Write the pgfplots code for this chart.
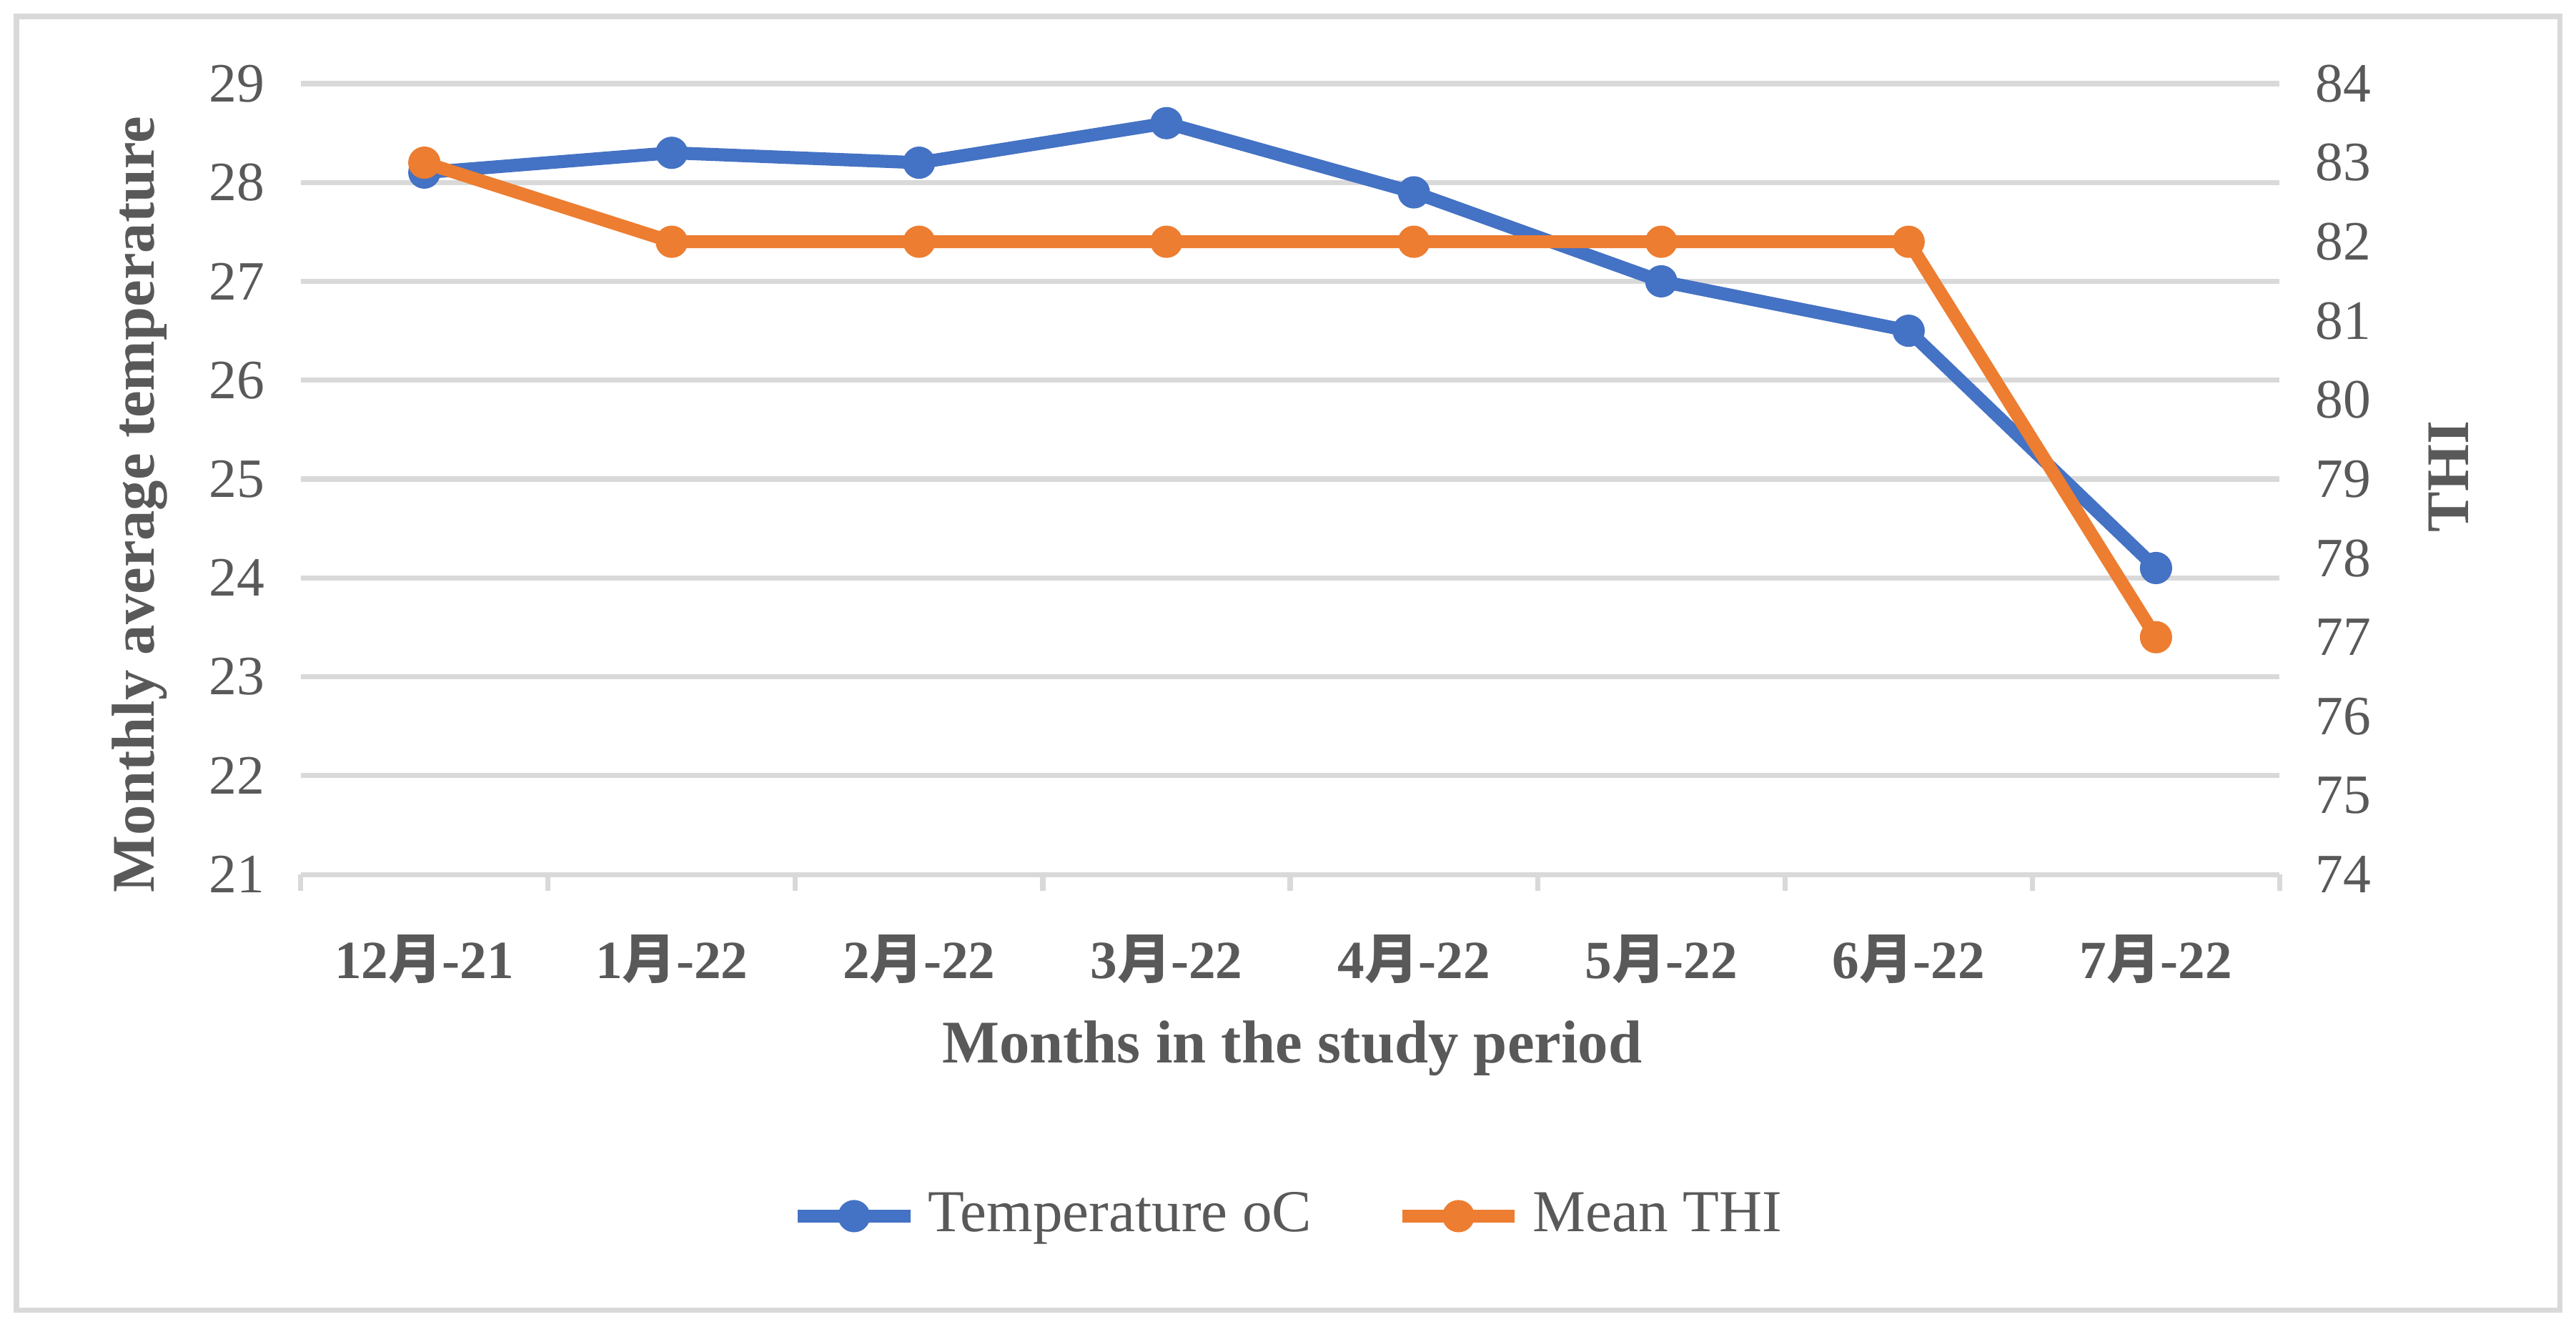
\documentclass[border=0pt]{standalone}
\usepackage{fontspec}
\setmainfont{Liberation Serif}
\newfontfamily\cjk{Noto Sans CJK SC}
\usepackage{pgfplots}
\pgfplotsset{compat=1.18}

\definecolor{tblue}{HTML}{4472C4}
\definecolor{torange}{HTML}{ED7D31}
\definecolor{txt}{HTML}{595959}
\definecolor{grd}{HTML}{D9D9D9}

\newcommand{\mon}[2]{#1{\cjk 月}-#2}

\pgfplotsset{
  common/.style={
    at={(0,0)}, anchor=south west,
    scale only axis, width=12.29cm, height=4.91cm,
    xmin=-0.5, xmax=7.5,
    major tick length=0,
    /pgf/number format/assume math mode=true,
    ticklabel style={text=txt},
    yticklabel style={font=\fontsize{9.8}{11}\selectfont},
    label style={text=txt, font=\bfseries\fontsize{10.7}{12}\selectfont},
    clip=false,
  },
  legend image code/.code={
    \draw[#1, mark repeat=2, mark phase=2] plot coordinates {(0cm,0cm) (0.35cm,0cm) (0.7cm,0cm)};
  },
}

\begin{document}
\begin{tikzpicture}
\useasboundingbox (-1.867,-2.806) rectangle (14.13,5.429);
\draw[grd, line width=0.9pt] (-1.765,-2.704) rectangle (14.03,5.327);

% left axis: temperature
\begin{axis}[
  common,
  ymin=21, ymax=29,
  axis x line*=bottom, axis y line*=left,
  y axis line style={draw=none},
  x axis line style={grd, line width=0.9pt, -},
  ytick={21,...,29},
  ymajorgrids, grid style={grd, line width=0.9pt},
  xtick={0,...,7},
  xticklabels={\mon{12}{21},\mon{1}{22},\mon{2}{22},\mon{3}{22},\mon{4}{22},\mon{5}{22},\mon{6}{22},\mon{7}{22}},
  minor xtick={-0.5,0.5,...,7.5},
  minor tick length=0.1cm, xtick align=outside,
  minor tick style={grd, line width=0.9pt},
  xticklabel style={font=\bfseries\fontsize{9.5}{11}\selectfont, yshift=-0.25cm},
  yticklabel style={xshift=-0.1cm},
  xlabel={Months in the study period},
  xlabel style={at={(axis description cs:0.501,-0.220)}, anchor=center},
  ylabel={Monthly average temperature},
  ylabel style={at={(axis description cs:-0.0814,0.468)}, anchor=center},
  legend style={at={(axis description cs:0.501,-0.432)}, anchor=center, draw=none,
    font=\fontsize{10.5}{12}\selectfont, text=txt,
    /tikz/every even column/.append style={column sep=0.45cm}},
  legend columns=2,
]
\addplot[tblue, line width=2.3pt, mark=*, mark size=2.6pt, mark options={solid, fill=tblue, line width=0.5pt}]
  coordinates {(0,28.1) (1,28.3) (2,28.2) (3,28.6) (4,27.9) (5,27.0) (6,26.5) (7,24.1)};
\addlegendentry{Temperature oC}
\addlegendimage{torange, line width=2.3pt, mark=*, mark size=2.6pt, mark options={solid, fill=torange, line width=0.5pt}}
\addlegendentry{Mean THI}
\end{axis}

% right axis: THI
\begin{axis}[
  common,
  ymin=74, ymax=84,
  axis x line=none, axis y line*=right,
  y axis line style={draw=none},
  ytick={74,...,84},
  yticklabel style={xshift=0.1cm},
  ylabel={THI},
  ylabel style={at={(axis description cs:1.0855,0.503)}, anchor=center},
]
\addplot[torange, line width=2.3pt, mark=*, mark size=2.6pt, mark options={solid, fill=torange, line width=0.5pt}]
  coordinates {(0,83) (1,82) (2,82) (3,82) (4,82) (5,82) (6,82) (7,77)};
\end{axis}
\end{tikzpicture}
\end{document}
